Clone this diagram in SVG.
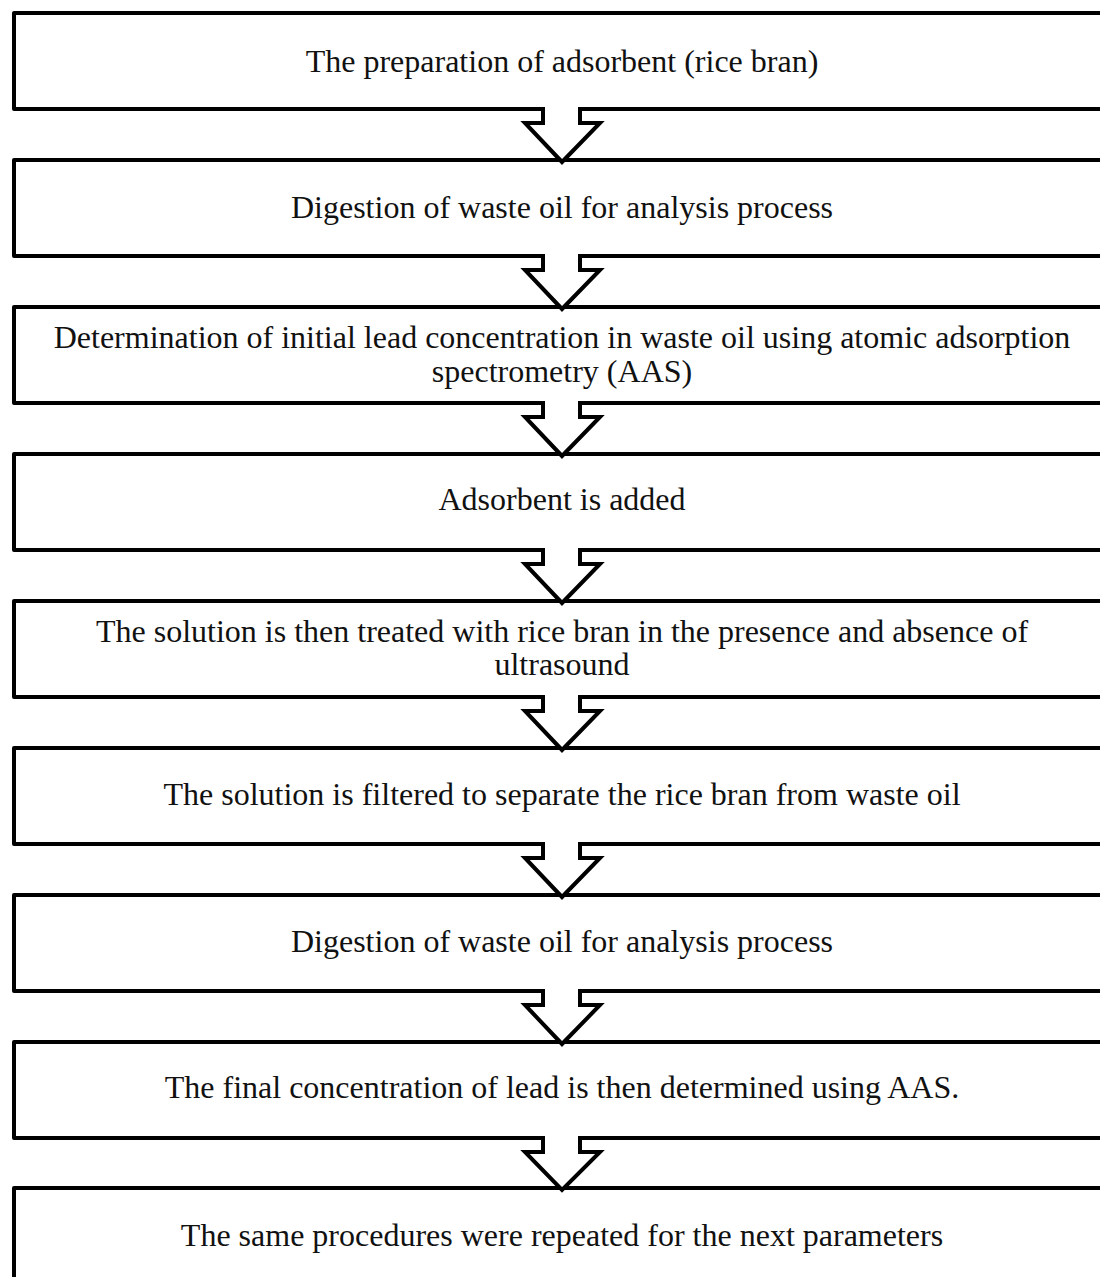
<svg xmlns="http://www.w3.org/2000/svg" width="1100" height="1277" viewBox="0 0 1100 1277">
<style>
.box{fill:#fff;stroke:#000;stroke-width:4;stroke-linejoin:round}
.arr{fill:#fff;stroke:#000;stroke-width:4;stroke-linejoin:miter}
text{font-family:"Liberation Serif","Times New Roman",serif;font-size:32px;fill:#111;text-anchor:middle}
</style>
<rect width="1100" height="1277" fill="#fff"/>
<g id="n1"><rect class="box" x="14" y="13" width="1110" height="96"/><text x="562" y="72">The preparation of adsorbent (rice bran)</text></g>
<g id="n2"><rect class="box" x="14" y="160" width="1110" height="96"/><text x="562" y="218">Digestion of waste oil for analysis process</text></g>
<g id="n3"><rect class="box" x="14" y="307" width="1110" height="96"/><text x="562" y="348">Determination of initial lead concentration in waste oil using atomic adsorption</text><text x="562" y="382">spectrometry (AAS)</text></g>
<g id="n4"><rect class="box" x="14" y="454" width="1110" height="96"/><text x="562" y="510">Adsorbent is added</text></g>
<g id="n5"><rect class="box" x="14" y="601" width="1110" height="96"/><text x="562" y="642">The solution is then treated with rice bran in the presence and absence of</text><text x="562" y="675">ultrasound</text></g>
<g id="n6"><rect class="box" x="14" y="748" width="1110" height="96"/><text x="562" y="805">The solution is filtered to separate the rice bran from waste oil</text></g>
<g id="n7"><rect class="box" x="14" y="895" width="1110" height="96"/><text x="562" y="952">Digestion of waste oil for analysis process</text></g>
<g id="n8"><rect class="box" x="14" y="1042" width="1110" height="96"/><text x="562" y="1098">The final concentration of lead is then determined using AAS.</text></g>
<g id="n9"><rect class="box" x="14" y="1188" width="1110" height="120"/><text x="562" y="1246">The same procedures were repeated for the next parameters</text></g>
<g id="connectors">
<path class="arr" d="M543,107V123H525L562,162L600,123H580V107"/>
<path class="arr" d="M543,254V270H525L562,309L600,270H580V254"/>
<path class="arr" d="M543,401V417H525L562,456L600,417H580V401"/>
<path class="arr" d="M543,548V564H525L562,603L600,564H580V548"/>
<path class="arr" d="M543,695V711H525L562,750L600,711H580V695"/>
<path class="arr" d="M543,842V858H525L562,897L600,858H580V842"/>
<path class="arr" d="M543,989V1005H525L562,1044L600,1005H580V989"/>
<path class="arr" d="M543,1136V1152H525L562,1190L600,1152H580V1136"/>
</g>
</svg>
